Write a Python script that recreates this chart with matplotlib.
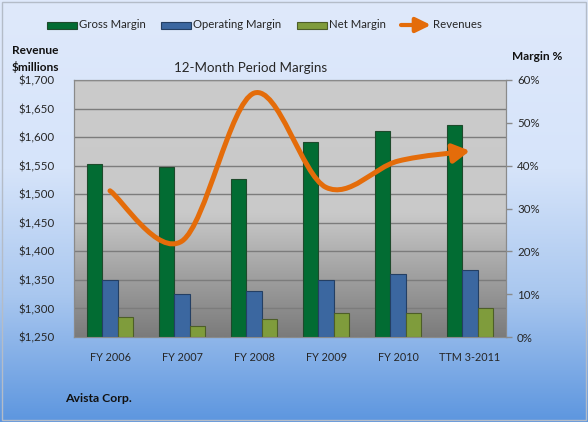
import numpy as np
import matplotlib.pyplot as plt
from matplotlib.colors import LinearSegmentedColormap
from matplotlib.patches import Rectangle, FancyArrowPatch
from matplotlib.path import Path

plt.rcParams['font.family'] = ['Lato', 'DejaVu Sans']

# data
periods = ["FY 2006", "FY 2007", "FY 2008", "FY 2009", "FY 2010", "TTM 3-2011"]
gross_margin = [40.3, 39.7, 36.8, 45.5, 48.0, 49.5]
operating_margin = [13.2, 10.0, 10.8, 13.2, 14.6, 15.6]
net_margin = [4.7, 2.6, 4.2, 5.7, 5.7, 6.7]
revenues = [1506, 1418, 1677, 1512, 1558, 1576]

rev_ticks = list(range(1250, 1701, 50))
pct_ticks = list(range(0, 61, 10))

green = '#026c33'
blue = '#3b67a0'
olive = '#7f9c3c'
orange = '#e46c0a'
txt = '#262626'

W, H = 588, 422
fig = plt.figure(figsize=(W / 100, H / 100), dpi=100)

# figure background gradient
bg = fig.add_axes([0, 0, 1, 1], zorder=-10)
bg_cmap = LinearSegmentedColormap.from_list(
    'bg', [(0, '#dfe9fb'), (0.4, '#d6e4fa'), (0.7, '#a9c7ef'), (1, '#5d96df')])
bg.imshow(np.linspace(0, 1, 256).reshape(-1, 1), cmap=bg_cmap, aspect='auto',
          extent=[0, 1, 0, 1], origin='upper')
bg.set_xlim(0, 1)
bg.set_ylim(0, 1)
bg.axis('off')
fig.add_artist(Rectangle((2 / W, 2 / H), 1 - 4 / W, 1 - 4 / H, transform=fig.transFigure,
                         fill=False, edgecolor='#b4bcc8', linewidth=1))

# main axes: revenue on the left
x = np.arange(len(periods))
ax = fig.add_axes([74 / W, (H - 337) / H, 432 / W, 257 / H])
ax.set_xlim(-0.5, len(periods) - 0.5)
ax.set_ylim(1250, 1700)

plot_cmap = LinearSegmentedColormap.from_list(
    'plot', [(0, '#cbcbcb'), (0.52, '#c9c9c9'), (0.75, '#a2a2a2'), (1, '#7b7b7b')])
ax.imshow(np.linspace(0, 1, 256).reshape(-1, 1), cmap=plot_cmap, aspect='auto',
          extent=[-0.5, len(periods) - 0.5, 1250, 1700], origin='upper', zorder=0)

ax.set_yticks(rev_ticks)
ax.set_yticklabels(['${:,}'.format(v) for v in rev_ticks])
ax.grid(axis='y', color='#7c7c7c', linewidth=1)
ax.set_axisbelow(True)
ax.tick_params(axis='y', length=0, pad=14, labelsize=8.3, colors=txt)
ax.set_xticks(x)
ax.set_xticklabels(periods)
ax.tick_params(axis='x', length=0, pad=11, labelsize=7.8, colors=txt)
for s in ax.spines.values():
    s.set_color('#8a8a8a')

# margins on the right
ax2 = ax.twinx()
ax2.set_ylim(0, 60)
ax2.set_yticks(pct_ticks)
ax2.set_yticklabels(['{}%'.format(v) for v in pct_ticks])
ax2.tick_params(axis='y', length=4, width=1, color='#8a8a8a', pad=4,
                labelsize=8.3, labelcolor=txt)
for s in ax2.spines.values():
    s.set_color('#8a8a8a')

bw = 0.215
ax2.bar(x - bw, gross_margin, bw, color=green, edgecolor='#1e4a2c', linewidth=0.8, zorder=2)
ax2.bar(x, operating_margin, bw, color=blue, edgecolor='#243f63', linewidth=0.8, zorder=2)
ax2.bar(x + bw, net_margin, bw, color=olive, edgecolor='#4d5e28', linewidth=0.8, zorder=2)

# smoothed revenue line with arrow head (Catmull-Rom bezier through data points)
pts = np.column_stack([x, revenues]).astype(float)
n = len(pts)
verts = [pts[0]]
codes = [Path.MOVETO]
for i in range(n - 1):
    p0 = pts[max(i - 1, 0)]
    p1 = pts[i]
    p2 = pts[i + 1]
    p3 = pts[min(i + 2, n - 1)]
    verts += [p1 + (p2 - p0) / 6, p2 - (p3 - p1) / 6, p2]
    codes += [Path.CURVE4] * 3
rev_arrow = FancyArrowPatch(path=Path(verts, codes),
                            arrowstyle='-|>,head_length=0.5,head_width=0.28',
                            mutation_scale=20, color=orange, linewidth=3.6,
                            transform=ax.transData, zorder=5, clip_on=False)
ax2.add_patch(rev_arrow)

# titles
fig.text(251 / W, 1 - 68 / H, '12-Month Period Margins', ha='center', va='center',
         fontsize=9.6, color=txt)
fig.text(12 / W, 1 - 51 / H, 'Revenue', ha='left', va='center', fontsize=8.6,
         fontweight='bold', color='#111111')
fig.text(12 / W, 1 - 67 / H, '$millions', ha='left', va='center', fontsize=8.6,
         fontweight='bold', color='#111111')
fig.text(537 / W, 1 - 56 / H, 'Margin %', ha='center', va='center', fontsize=8.6,
         fontweight='bold', color='#111111')
fig.text(65 / W, 1 - 398 / H, 'Avista Corp.', ha='left', va='center', fontsize=8.8,
         fontweight='bold', color='#111111')

# legend drawn across the top
legend_items = [('Gross Margin', green, '#1e4a2c', 47),
                ('Operating Margin', blue, '#243f63', 161),
                ('Net Margin', olive, '#4d5e28', 297)]
for label, fc, ec, lx in legend_items:
    fig.add_artist(Rectangle((lx / W, 1 - 29 / H), 30 / W, 7 / H, transform=fig.transFigure,
                             facecolor=fc, edgecolor=ec, linewidth=0.8))
    fig.text((lx + 32) / W, 1 - 25 / H, label, ha='left', va='center', fontsize=8.2,
             color=txt)
fig.add_artist(FancyArrowPatch((401 / W, 1 - 25 / H), (431 / W, 1 - 25 / H),
                               transform=fig.transFigure,
                               arrowstyle='-|>,head_length=0.45,head_width=0.22',
                               mutation_scale=20, color=orange, linewidth=3.0,
                               shrinkA=0, shrinkB=0))
fig.text(433 / W, 1 - 25 / H, 'Revenues', ha='left', va='center', fontsize=8.2,
         color=txt)

fig.savefig('out.png', dpi=100)
